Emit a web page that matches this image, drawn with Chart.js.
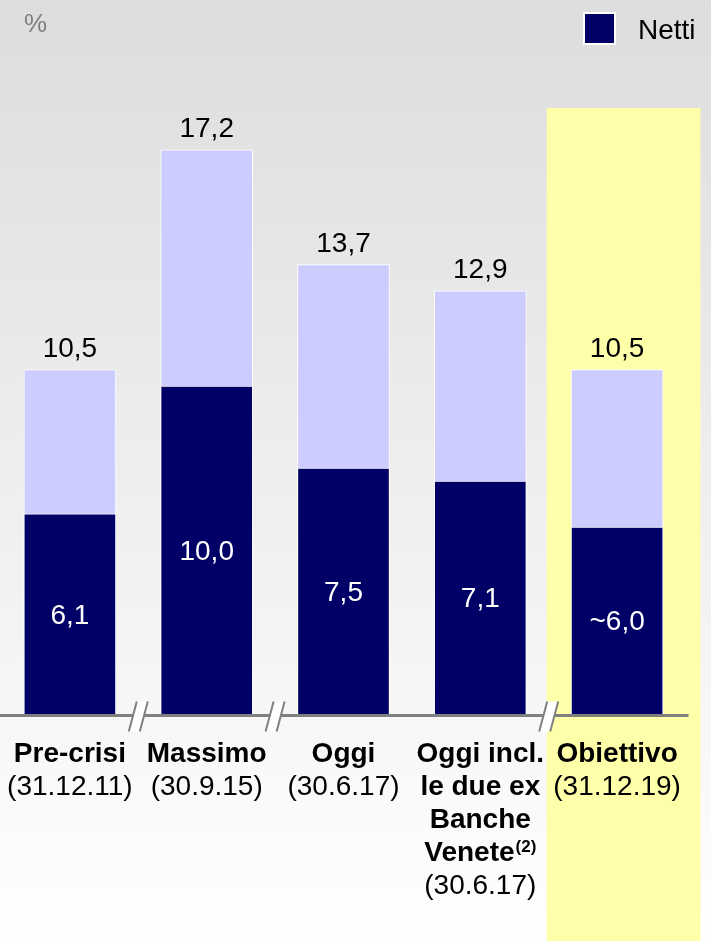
<!DOCTYPE html>
<html>
<head>
<meta charset="utf-8">
<script src="https://cdn.jsdelivr.net/npm/chart.js@4/dist/chart.umd.min.js"></script>
<style>
  html, body { margin: 0; padding: 0; }
  body { width: 711px; height: 941px; overflow: hidden;
         background: linear-gradient(to bottom, #dddddd 0px, #ffffff 941px); }
  #wrap { width: 711px; height: 941px; position: relative; }
  canvas { display: block; }
</style>
</head>
<body>
<div id="wrap"><canvas id="c" width="711" height="941"></canvas></div>
<script>
// ---- Data ----
const categories = ['Pre-crisi', 'Massimo', 'Oggi', 'Oggi incl. le due ex Banche Venete', 'Obiettivo'];
const categoryTitleLines = [['Pre-crisi'], ['Massimo'], ['Oggi'], ['Oggi incl.', 'le due ex', 'Banche', 'Venete'], ['Obiettivo']];
const categoryDates = ['(31.12.11)', '(30.9.15)', '(30.6.17)', '(30.6.17)', '(31.12.19)'];
const footnoteMarks = ['', '', '', '(2)', ''];
const nettiValues = [6.1, 10.0, 7.5, 7.1, 5.7];
const nettiLabels = ['6,1', '10,0', '7,5', '7,1', '~6,0'];
const lordiValues = [10.5, 17.2, 13.7, 12.9, 10.5];
const breakAfter = [0, 1, 3];
const highlightIndex = 4;
const unitLabel = '%';
const legendLabel = 'Netti';

const FONT = "'Liberation Sans', Arial, Helvetica, sans-serif";
const NAVY = '#000066';
const LAVENDER = '#ccccff';
const YELLOW = '#ffffaa';
const AXIS_GREY = '#808080';

function fmt(v) { return v.toFixed(1).replace('.', ','); }

const decor = {
  id: 'decor',
  beforeDatasetsDraw(chart) {
    const ctx = chart.ctx, x = chart.scales.x, ca = chart.chartArea;
    const left = (x.getPixelForValue(highlightIndex - 1) + x.getPixelForValue(highlightIndex)) / 2 - 2;
    const right = ca.right + 15;
    const top = ca.top + 50;
    ctx.save();
    ctx.fillStyle = YELLOW;
    ctx.fillRect(left, top, right - left, chart.height - top);
    ctx.restore();
  },
  afterDatasetsDraw(chart) {
    const ctx = chart.ctx, x = chart.scales.x, y = chart.scales.y, ca = chart.chartArea;
    ctx.save();
    // value labels
    ctx.textAlign = 'center';
    ctx.font = '28px ' + FONT;
    lordiValues.forEach((v, i) => {
      ctx.fillStyle = '#000';
      ctx.textBaseline = 'alphabetic';
      ctx.fillText(fmt(v), x.getPixelForValue(i), y.getPixelForValue(v) - 13);
    });
    nettiValues.forEach((v, i) => {
      ctx.fillStyle = '#ffffff';
      ctx.textBaseline = 'middle';
      const cy = (y.getPixelForValue(v) + y.getPixelForValue(0)) / 2 + 2;
      ctx.fillText(nettiLabels[i], x.getPixelForValue(i), cy);
    });
    // axis line
    const axisY = y.getPixelForValue(0) + 1.5;
    ctx.strokeStyle = AXIS_GREY;
    ctx.lineWidth = 3;
    ctx.beginPath();
    ctx.moveTo(0, axisY);
    ctx.lineTo(ca.right + 3, axisY);
    ctx.stroke();
    // break marks
    breakAfter.forEach(i => {
      const cx = (x.getPixelForValue(i) + x.getPixelForValue(i + 1)) / 2;
      const yb = axisY + 16, yt = axisY - 14;
      ctx.fillStyle = '#ffffff';
      ctx.beginPath();
      ctx.moveTo(cx - 9.5, yb);
      ctx.lineTo(cx - 1.5, yt);
      ctx.lineTo(cx + 9.5, yt);
      ctx.lineTo(cx + 1.5, yb);
      ctx.closePath();
      ctx.fill();
      ctx.strokeStyle = AXIS_GREY;
      ctx.lineWidth = 2;
      ctx.beginPath();
      ctx.moveTo(cx - 9.5, yb); ctx.lineTo(cx - 1.5, yt);
      ctx.moveTo(cx + 1.5, yb); ctx.lineTo(cx + 9.5, yt);
      ctx.stroke();
    });
    // category labels
    const base0 = axisY + 46.5, step = 33;
    ctx.textBaseline = 'alphabetic';
    ctx.fillStyle = '#000';
    categoryTitleLines.forEach((lines, i) => {
      const cx = x.getPixelForValue(i);
      let yy = base0;
      lines.forEach((ln, k) => {
        const isLast = k === lines.length - 1;
        const mark = isLast ? footnoteMarks[i] : '';
        ctx.font = 'bold 28px ' + FONT;
        const w = ctx.measureText(ln).width;
        let mw = 0;
        if (mark) { ctx.font = 'bold 17px ' + FONT; mw = ctx.measureText(mark).width + 1; }
        const start = cx - (w + mw) / 2;
        ctx.textAlign = 'left';
        ctx.font = 'bold 28px ' + FONT;
        ctx.fillText(ln, start, yy);
        if (mark) {
          ctx.font = 'bold 17px ' + FONT;
          ctx.fillText(mark, start + w + 1, yy - 9);
        }
        yy += step;
      });
      ctx.textAlign = 'center';
      ctx.font = '28px ' + FONT;
      ctx.fillText(categoryDates[i], cx, yy);
    });
    // unit label
    ctx.textAlign = 'left';
    ctx.fillStyle = AXIS_GREY;
    ctx.font = '26px ' + FONT;
    ctx.fillText(unitLabel, 24, 32);
    // legend
    ctx.fillStyle = '#ffffff';
    ctx.fillRect(583, 12, 33, 33);
    ctx.fillStyle = NAVY;
    ctx.fillRect(585, 14, 29, 29);
    ctx.fillStyle = '#000';
    ctx.font = '28px ' + FONT;
    ctx.fillText(legendLabel, 638, 39);
    ctx.restore();
  }
};

new Chart(document.getElementById('c'), {
  type: 'bar',
  data: {
    labels: categories,
    datasets: [
      { label: legendLabel, data: nettiValues, backgroundColor: NAVY, borderColor: '#ffffff',
        borderWidth: 1, grouped: false, barThickness: 92 },
      { label: 'Lordi', data: lordiValues, backgroundColor: LAVENDER, borderColor: '#ffffff',
        borderWidth: 1, grouped: false, barThickness: 92 }
    ]
  },
  options: {
    responsive: false,
    animation: false,
    devicePixelRatio: 1,
    layout: { padding: { left: 1.5, right: 25.5, top: 58, bottom: 227 } },
    scales: {
      x: { display: false, offset: true },
      y: { display: false, min: 0, max: 20 }
    },
    plugins: { legend: { display: false }, tooltip: { enabled: false } }
  },
  plugins: [decor]
});
</script>
</body>
</html>
